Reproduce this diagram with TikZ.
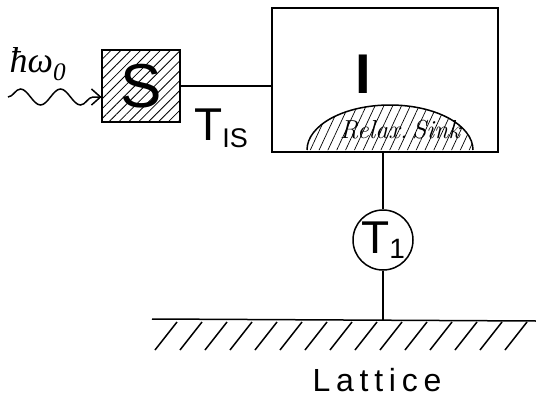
\documentclass[tikz,border=0pt]{standalone}
\usepackage{fontspec}
\setsansfont{Liberation Sans}
\newfontfamily\photonfont{Liberation Serif}
\usetikzlibrary{patterns.meta, decorations.pathmorphing, arrows.meta}

\begin{document}
\begin{tikzpicture}[
    x=1pt, y=-1pt,
    line width=1.5pt,
    hatch/.style={pattern={Lines[angle=45, distance=7pt, line width=0.8pt]}},
    sinkhatch/.style={pattern={Lines[angle=65, distance=8pt, line width=0.7pt]}},
    box/.style={rectangle, draw, inner sep=0pt, font=\sffamily\bfseries},
    lbl/.style={inner sep=0pt, font=\sffamily}
  ]
  \useasboundingbox (0,0) rectangle (536,399);

  % spin system, interaction system, lattice
  \node[box, hatch, minimum width=78pt, minimum height=72pt,
        font=\sffamily\fontsize{62}{62}\selectfont] (src) at (141,86) {S};
  \node[box, minimum width=226pt, minimum height=144pt] (sys) at (385,80) {};
  \node[lbl, font=\sffamily\bfseries\fontsize{56}{56}\selectfont] (ilabel) at (363,74) {I};
  \node[circle, draw, minimum size=60pt, inner sep=0pt,
        font=\sffamily\fontsize{46}{46}\selectfont] (tone) at (383,240)
        {T\raisebox{-0.12em}{\fontsize{28}{28}\selectfont 1}};

  % relaxation sink
  \fill[sinkhatch] (307,150) arc[start angle=180, end angle=360, x radius=83, y radius=45] -- cycle;
  \draw (307,150) arc[start angle=180, end angle=360, x radius=83, y radius=45];
  \node[inner sep=0pt, font=\itshape\fontsize{26}{26}\selectfont] (sink) at (400,130) {Relax.\,Sink};

  % labels
  \node[lbl, font=\sffamily\fontsize{46}{46}\selectfont] (tis) at (221,128)
        {T\raisebox{-0.15em}{\fontsize{27}{27}\selectfont IS}};
  \node[inner sep=0pt, font=\photonfont\itshape\fontsize{36}{36}\selectfont] (photon) at (38,64) {ħω\textsubscript{0}};
  \node[lbl, font=\sffamily\fontsize{32}{32}\selectfont\addfontfeature{LetterSpace=18}] (lattice) at (377,380) {Lattice};

  % connections
  \coordinate (wave) at (8,97);
  \draw[decorate, decoration={snake, amplitude=8pt, segment length=40pt, post length=8pt},
        -{Straight Barb[length=9pt, width=16pt]}] (wave) -- (src.west |- wave);
  \draw (src.east) -- (src.east -| sys.west);
  \draw (tone.north |- sys.south) -- (tone.north);

  % lattice ground
  \coordinate (gleft) at (152,319);
  \coordinate (gright) at (536,321);
  \coordinate (gnd) at (383,320);
  \draw (gleft) -- (gright);
  \draw (tone.south) -- (gnd);
  \foreach \x in {177,202,...,527}
    \draw (\x,322) -- ++(-22,28);
\end{tikzpicture}
\end{document}
